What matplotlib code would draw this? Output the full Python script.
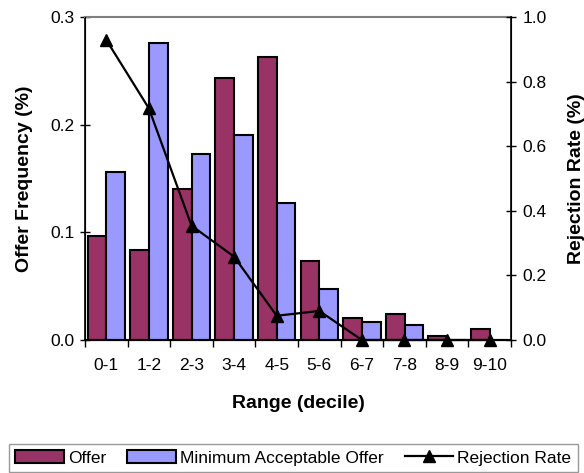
import matplotlib
matplotlib.use("Agg")
import matplotlib.pyplot as plt
import numpy as np

categories = ["0-1", "1-2", "2-3", "3-4", "4-5", "5-6", "6-7", "7-8", "8-9", "9-10"]
offer = [0.097, 0.084, 0.140, 0.243, 0.263, 0.073, 0.020, 0.024, 0.004, 0.010]
mao = [0.156, 0.276, 0.173, 0.190, 0.127, 0.047, 0.017, 0.014, 0.0, 0.0]
rejection = [0.929, 0.717, 0.354, 0.258, 0.075, 0.090, 0.0, 0.0, 0.0, 0.0]

plt.rcParams['font.family'] = ['Liberation Sans', 'DejaVu Sans']

TICK_FS = 12.5
LABEL_FS = 14
LEG_FS = 12.5

fig = plt.figure(figsize=(5.84, 4.73), dpi=100)
ax = fig.add_axes([85/584, 1-340/473, (511-85)/584, (340-17)/473])
x = np.arange(len(categories))
w = 0.44
ax.bar(x - w/2, offer, width=w, color="#993366", edgecolor="black", linewidth=1.5, label="Offer", zorder=2)
ax.bar(x + w/2, mao, width=w, color="#9999FF", edgecolor="black", linewidth=1.5, label="Minimum Acceptable Offer", zorder=2)
ax.set_xlim(-0.5, len(categories) - 0.5)
ax.set_ylim(0, 0.3)
ax.set_yticks([0.0, 0.1, 0.2, 0.3])
ax.set_yticklabels(["0.0", "0.1", "0.2", "0.3"])
ax.set_xticks(x)
ax.set_xticklabels(categories)
ax.set_xticks(np.arange(-0.5, len(categories)), minor=True)
ax.tick_params(axis='x', which='major', length=0, pad=13, labelsize=TICK_FS)
ax.tick_params(axis='x', which='minor', length=5, direction='out', width=1)
ax.tick_params(axis='y', direction='inout', length=7, width=1, labelsize=TICK_FS, pad=4)
ax.spines['top'].set_color('#808080')
ax.spines['top'].set_linewidth(1.5)
ax.spines['left'].set_linewidth(1.2)
ax.spines['bottom'].set_linewidth(1.5)
ax.set_ylabel("Offer Frequency (%)", fontsize=LABEL_FS, fontweight='bold')
ax.set_xlabel("Range (decile)", fontsize=LABEL_FS, fontweight='bold')
ax.yaxis.set_label_coords(-0.122, 0.5)
ax.xaxis.set_label_coords(0.5, -0.17)

ax2 = ax.twinx()
ax2.plot(x, rejection, color='black', linewidth=1.6, marker='^', markersize=8, label="Rejection Rate", zorder=3, clip_on=False)
ax2.set_ylim(0, 1.0)
ax2.set_yticks([0.0, 0.2, 0.4, 0.6, 0.8, 1.0])
ax2.set_yticklabels(["0.0", "0.2", "0.4", "0.6", "0.8", "1.0"])
ax2.tick_params(axis='y', direction='inout', length=7, width=1, labelsize=TICK_FS, pad=5)
ax2.spines['top'].set_visible(False)
ax2.spines['right'].set_linewidth(1.2)
ax2.set_ylabel("Rejection Rate (%)", fontsize=LABEL_FS, fontweight='bold', labelpad=15)

h1, l1 = ax.get_legend_handles_labels()
h2, l2 = ax2.get_legend_handles_labels()
leg = fig.legend(h1 + h2, l1 + l2, loc='upper left', bbox_to_anchor=(9/584, 1-444/473),
                 ncol=3, frameon=True, fancybox=False, edgecolor='#808080', fontsize=LEG_FS,
                 handlelength=2.8, handleheight=0.8, handletextpad=0.25, columnspacing=1.2,
                 borderpad=0.35, borderaxespad=0)
leg.get_frame().set_linewidth(1.0)

fig.savefig("out.png", dpi=100)
